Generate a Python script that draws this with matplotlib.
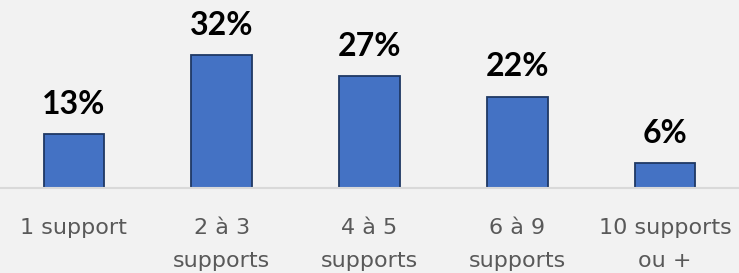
"""Bar chart: share of respondents by number of supports used."""
import matplotlib
matplotlib.use("Agg")
import matplotlib.pyplot as plt

categories = ["1 support", "2 à 3\nsupports", "4 à 5\nsupports", "6 à 9\nsupports", "10 supports\nou +"]
shares = [13, 32, 27, 22, 6]

BG = "#F2F2F2"
BAR = "#4472C4"
EDGE = "#1F3864"

fig = plt.figure(figsize=(7.39, 2.73), dpi=100, facecolor=BG)
ax = fig.add_axes([0.0, 85 / 273, 1.0, 188 / 273])
ax.set_facecolor(BG)

x = range(len(categories))
ax.bar(x, shares, width=0.41, color=BAR, edgecolor=EDGE, linewidth=1.3, zorder=2)
for xi, v in zip(x, shares):
    ax.annotate(f"{v}%", (xi, v), xytext=(0, 11), textcoords="offset points",
                ha="center", va="bottom", fontsize=23, fontweight="bold",
                family="Lato", color="black")

ax.set_xlim(-0.5, len(categories) - 0.5)
ax.set_ylim(0, 45.3)
ax.set_yticks([])
ax.set_xticks(list(x))
ax.set_xticklabels(categories, fontsize=16, color="#595959", linespacing=1.82,
                   family="DejaVu Sans")
ax.tick_params(axis="x", length=0, pad=21.5)
for side in ["left", "right", "top"]:
    ax.spines[side].set_visible(False)
ax.spines["bottom"].set_color("#D9D9D9")
ax.spines["bottom"].set_linewidth(1.5)

fig.savefig("out.png", dpi=100, facecolor=BG)
